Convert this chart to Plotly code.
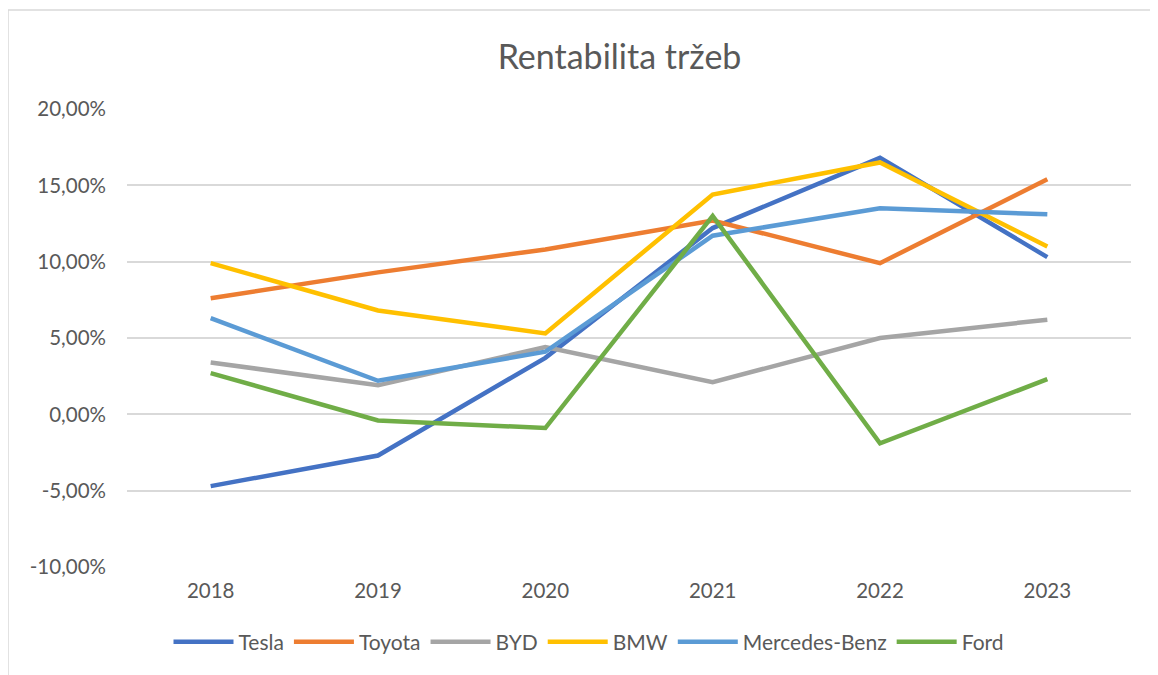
import plotly.graph_objects as go

years = ["2018", "2019", "2020", "2021", "2022", "2023"]

tesla = [-4.7, -2.7, 3.7, 12.2, 16.8, 10.3]
toyota = [7.6, 9.3, 10.8, 12.7, 9.9, 15.4]
byd = [3.4, 1.9, 4.4, 2.1, 5.0, 6.2]
bmw = [9.9, 6.8, 5.3, 14.4, 16.5, 11.0]
mercedes = [6.3, 2.2, 4.1, 11.7, 13.5, 13.1]
ford = [2.7, -0.4, -0.9, 13.0, -1.9, 2.3]

series_names = ["Tesla", "Toyota", "BYD", "BMW", "Mercedes-Benz", "Ford"]
series_values = [tesla, toyota, byd, bmw, mercedes, ford]
colors = ["#4472C4", "#ED7D31", "#A5A5A5", "#FFC000", "#5B9BD5", "#70AD47"]

y_tick_vals = [-0.10, -0.05, 0.0, 0.05, 0.10, 0.15, 0.20]
y_tick_labels = ["-10,00%", "-5,00%", "0,00%", "5,00%", "10,00%", "15,00%", "20,00%"]

FONT = "Lato"
TXT = "#595959"

# page body has an 8px margin; plot area wanted at x 127..1131, y 109..567
L, T = 119, 101
PW, PH = 1004, 458

fig = go.Figure()
for name, vals, col in zip(series_names, series_values, colors):
    fig.add_trace(go.Scatter(
        x=years, y=[v / 100 for v in vals], name=name, mode="lines",
        line=dict(color=col, width=4.5, shape="linear"),
    ))

fig.update_layout(
    width=1158, height=675,
    margin=dict(l=L, r=1158 - L - PW, t=T, b=675 - T - PH),
    paper_bgcolor="white", plot_bgcolor="white",
    font=dict(family=FONT, color=TXT, size=20),
    title=dict(text="Rentabilita tržeb", x=(619.5 - 127) / PW, xref="paper", xanchor="center",
               y=1 - 49 / 675, yref="container", yanchor="middle",
               font=dict(family=FONT, size=34, color=TXT)),
    showlegend=True,
    legend=dict(orientation="h", x=(589 - 127) / PW, xanchor="center",
                y=(567 - 642) / PH, yanchor="middle",
                font=dict(family=FONT, size=21, color=TXT), itemwidth=60,
                bgcolor="rgba(0,0,0,0)"),
    xaxis=dict(type="category", range=[-0.5, 5.5], showgrid=False, zeroline=False,
               showline=False, ticks="", ticklabelstandoff=9,
               tickfont=dict(family=FONT, size=20.5, color=TXT)),
    yaxis=dict(range=[-0.1, 0.2], tickmode="array", tickvals=y_tick_vals,
               ticktext=y_tick_labels,
               showgrid=True, gridcolor="#D9D9D9", gridwidth=1.5,
               zeroline=False, showline=False, ticks="", ticklabelstandoff=20,
               tickfont=dict(family=FONT, size=20.5, color=TXT)),
    shapes=[
        dict(type="line", xref="paper", yref="paper",
             x0=(8 - 127) / PW, x1=(1160 - 127) / PW,
             y0=(567 - 10) / PH, y1=(567 - 10) / PH,
             line=dict(color="#D9D9D9", width=1.5)),
        dict(type="line", xref="paper", yref="paper",
             x0=(8 - 127) / PW, x1=(8 - 127) / PW,
             y0=(567 - 10) / PH, y1=(567 - 680) / PH,
             line=dict(color="#D9D9D9", width=1.5)),
    ],
)

fig.write_html("out.html")
